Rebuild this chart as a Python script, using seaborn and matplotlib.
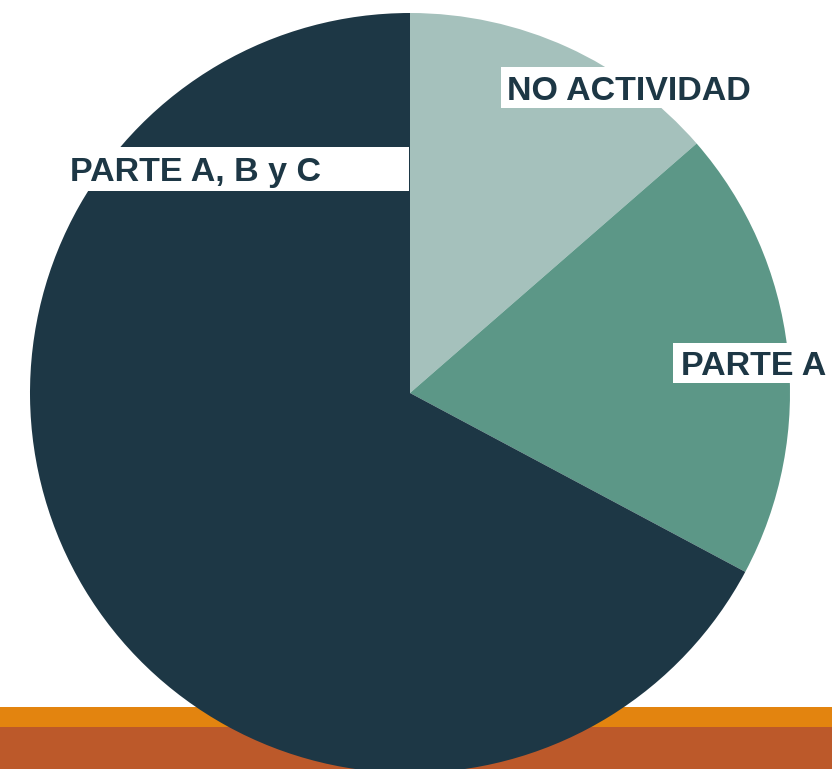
import matplotlib
matplotlib.use("Agg")
import matplotlib.pyplot as plt
from matplotlib.patches import Rectangle
import seaborn as sns

# datos del grafico
categorias = ["NO ACTIVIDAD", "PARTE A", "PARTE A, B y C"]
porcentajes = [13.6, 19.2, 67.2]
colores = sns.color_palette(["#A5C1BC", "#5C9787", "#1D3745"])

sns.set_style("white")
plt.rcParams['font.family'] = ['Liberation Sans', 'DejaVu Sans']

W, H = 832, 769
fig = plt.figure(figsize=(W / 100, H / 100), dpi=100)
ax = fig.add_axes([0, 0, 1, 1])
ax.set_xlim(0, W)
ax.set_ylim(0, H)
ax.set_aspect("equal")
ax.axis("off")

# franjas naranjas del fondo
ax.add_patch(Rectangle((0, 0), W, 42, color="#BC592A", zorder=1, lw=0))
ax.add_patch(Rectangle((0, 42), W, 20, color="#E3840F", zorder=1, lw=0))

wedges, _ = ax.pie(porcentajes, colors=colores, startangle=90, counterclock=False,
                   center=(410, H - 393), radius=380, frame=True,
                   wedgeprops=dict(linewidth=0, zorder=2))
ax.set_xlim(0, W)
ax.set_ylim(0, H)
ax.axis("off")

# etiquetas con caja blanca (x0, x1, y_top, y_bottom, x_texto)
cajas = [(501, 770, 67, 108, 507),
         (673, 840, 343, 383, 681),
         (40, 409, 147, 191, 70)]
for nombre, (x0, x1, yt, yb, xt) in zip(categorias, cajas):
    ax.add_patch(Rectangle((x0, H - yb), x1 - x0, yb - yt, color="white", lw=0, zorder=3))
    ax.text(xt, H - (yt + yb) / 2, nombre, ha="left", va="center_baseline",
            fontsize=24.5, fontweight="bold", color="#1D3745", zorder=4)

fig.savefig("out.png", dpi=100)
